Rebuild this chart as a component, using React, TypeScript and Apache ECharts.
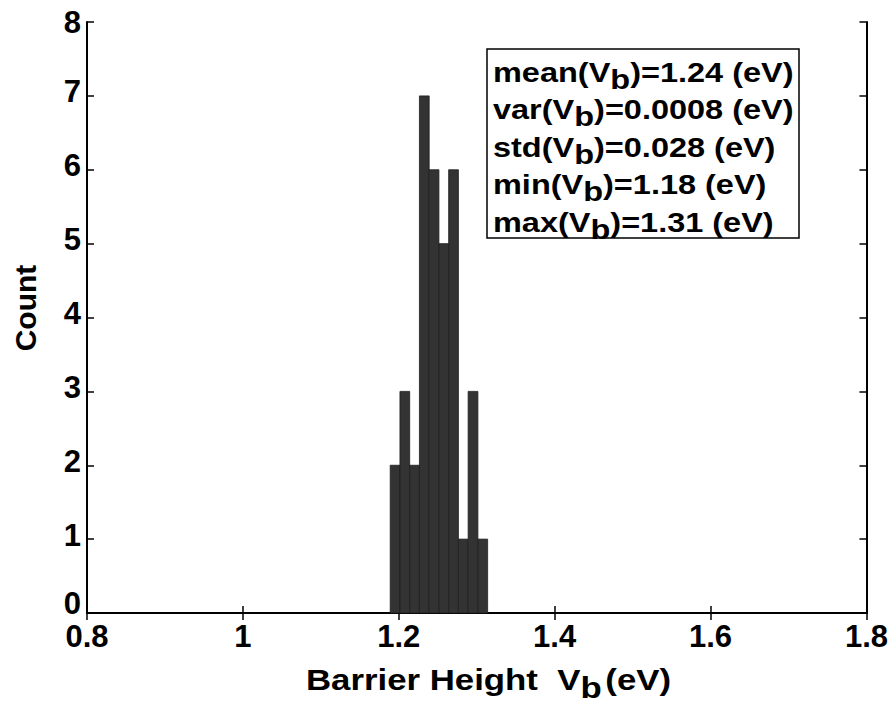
import React, { useEffect, useRef } from "react";
import * as echarts from "echarts";

// Histogram bin edges (eV) and counts
const binEdges = [1.189, 1.2015, 1.214, 1.2265, 1.239, 1.2515, 1.264, 1.2765, 1.289, 1.3015, 1.314];
const counts = [2, 3, 2, 7, 6, 5, 6, 1, 3, 1];

const xTicks = { min: 0.8, max: 1.8, interval: 0.2 };
const yTicks = { min: 0, max: 8, interval: 1 };

const statsLines = [
  ["mean(V", "b", ")=1.24 (eV)"],
  ["var(V", "b", ")=0.0008 (eV)"],
  ["std(V", "b", ")=0.028 (eV)"],
  ["min(V", "b", ")=1.18 (eV)"],
  ["max(V", "b", ")=1.31 (eV)"],
];

const FONT = "'Liberation Sans', Arial, Helvetica, sans-serif";

export default function App() {
  const ref = useRef<HTMLDivElement>(null);
  useEffect(() => {
    if (!ref.current) return;
    const chart = echarts.init(ref.current, undefined, { renderer: "svg" });
    const data = counts.map((c, i) => [binEdges[i], binEdges[i + 1], c]);

    const richStyles = {
      m: { fontSize: 28, fontWeight: "bold", fontFamily: FONT, color: "#000", lineHeight: 30 },
      s: { fontSize: 28, fontWeight: "bold", fontFamily: FONT, color: "#000", lineHeight: 30, padding: [14, 0, 0, 0] },
    };

    const statsTexts = statsLines.map((parts, i) => ({
      type: "text",
      x: 493,
      y: 57 + i * 37.5,
      scaleX: 1.16,
      style: {
        text: `{m|${parts[0]}}{s|${parts[1]}}{m|${parts[2]}}`,
        rich: richStyles,
        verticalAlign: "top",
        align: "left",
      },
    }));

    const axisCommon = {
      type: "value",
      axisLine: { show: true, lineStyle: { color: "#000", width: 2 } },
      axisTick: { show: true, inside: true, length: 7, lineStyle: { color: "#000", width: 1.5 } },
      splitLine: { show: false },
    };

    const yLabelStyle = { fontSize: 31, fontWeight: "bold", fontFamily: FONT, color: "#000", lineHeight: 32 };

    chart.setOption({
      animation: false,
      backgroundColor: "#fff",
      grid: { left: 87, top: 22, width: 783, height: 591, containLabel: false },
      xAxis: [
        {
          ...axisCommon,
          ...xTicks,
          position: "bottom",
          axisLabel: { fontSize: 31, fontWeight: "bold", fontFamily: FONT, color: "#000", margin: 8 },
        },
        {
          ...axisCommon,
          ...xTicks,
          position: "top",
          axisLabel: { show: false },
        },
      ],
      yAxis: [
        {
          ...axisCommon,
          ...yTicks,
          position: "left",
          axisLabel: {
            margin: 6,
            formatter: (v: number) =>
              v === yTicks.min ? `{z|${v}}` : v === yTicks.max ? `{t|${v}}` : `{n|${v}}`,
            rich: {
              z: { ...yLabelStyle, padding: [0, 0, 20, 0] },
              n: { ...yLabelStyle, padding: [0, 0, 8, 0] },
              t: { ...yLabelStyle },
            },
          },
        },
        {
          ...axisCommon,
          ...yTicks,
          position: "right",
          axisLabel: { show: false },
        },
      ],
      series: [
        {
          type: "custom",
          xAxisIndex: 0,
          yAxisIndex: 0,
          data,
          renderItem: (params: any, api: any) => {
            const p0 = api.coord([api.value(0), api.value(2)]);
            const p1 = api.coord([api.value(1), 0]);
            return {
              type: "rect",
              shape: { x: p0[0], y: p0[1], width: p1[0] - p0[0], height: p1[1] - p0[1] },
              style: { fill: "#333333", stroke: "#1e1e1e", lineWidth: 0.8 },
            };
          },
        },
      ],
      graphic: [
        {
          type: "rect",
          shape: { x: 487, y: 49, width: 312, height: 189 },
          style: { fill: "#fff", stroke: "#000", lineWidth: 1.5 },
          z: 10,
        },
        ...statsTexts.map((t) => ({ ...t, z: 11 })),
        {
          type: "text",
          x: 306,
          y: 664,
          scaleX: 1.16,
          style: {
            text: "{m|Barrier Height  V}{s|b}{p|(eV)}",
            rich: {
              m: { fontSize: 30, fontWeight: "bold", fontFamily: FONT, color: "#000", lineHeight: 32 },
              s: { fontSize: 30, fontWeight: "bold", fontFamily: FONT, color: "#000", lineHeight: 32, padding: [16, 0, 0, 0] },
              p: { fontSize: 30, fontWeight: "bold", fontFamily: FONT, color: "#000", lineHeight: 32, padding: [0, 0, 0, 3] },
            },
            verticalAlign: "top",
            align: "left",
          },
        },
        {
          type: "text",
          x: 25,
          y: 308,
          rotation: Math.PI / 2,
          style: {
            text: "Count",
            fontSize: 30,
            fontWeight: "bold",
            fontFamily: FONT,
            fill: "#000",
            align: "center",
            verticalAlign: "middle",
          },
        },
      ],
    });
    return () => chart.dispose();
  }, []);
  return (
    <div
      ref={ref}
      style={{ position: "fixed", left: 0, top: 0, width: 891, height: 704, background: "#fff" }}
    />
  );
}
